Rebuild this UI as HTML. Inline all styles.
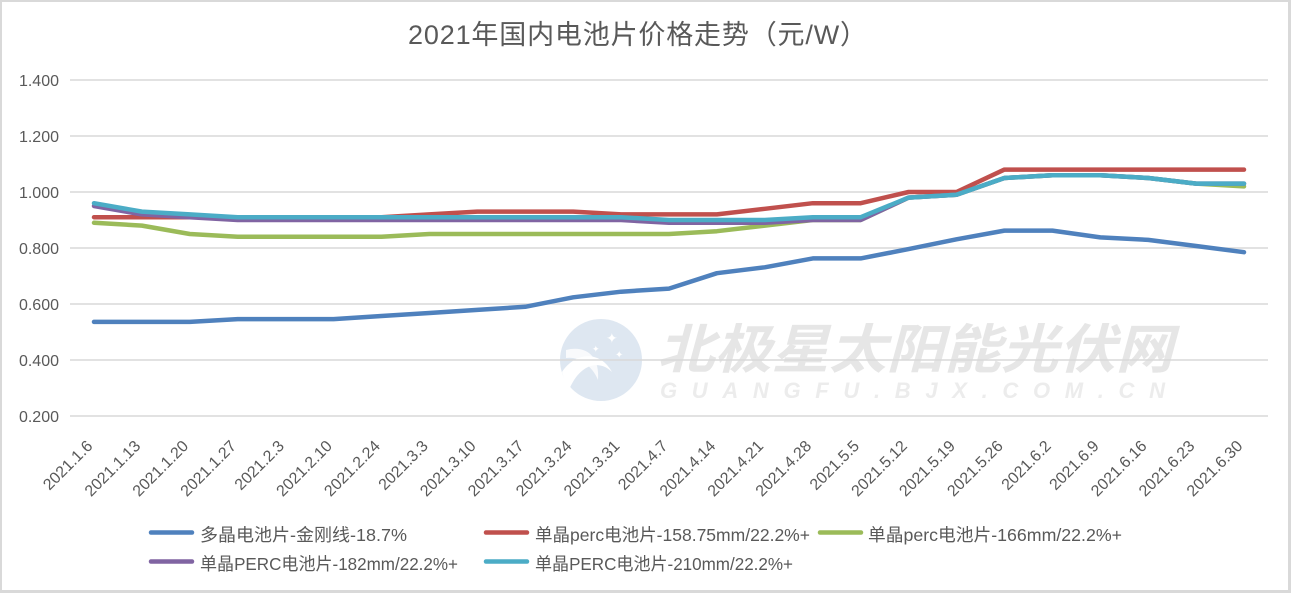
<!DOCTYPE html>
<html>
<head>
<meta charset="utf-8">
<style>
html,body{margin:0;padding:0;background:#fff;}
body{width:1291px;height:593px;overflow:hidden;}
svg{display:block;}
text{font-family:"Liberation Sans","Noto Sans CJK SC",sans-serif;}
</style>
</head>
<body>
<svg width="1291" height="593" viewBox="0 0 1291 593" xmlns="http://www.w3.org/2000/svg">
  <rect x="0" y="0" width="1291" height="593" fill="#D9D9D9"/>
  <rect x="2" y="2" width="1286" height="588" fill="#FFFFFF"/>

  <!-- title -->
  <text x="408" y="44" font-size="27" fill="#595959" textLength="459" lengthAdjust="spacing">2021年国内电池片价格走势（元/W）</text>

  <!-- watermark -->
  <g opacity="1">
    <circle cx="601" cy="360" r="41" fill="#DEE7F1"/>
    <path d="M562,372 C575,352 600,350 612,372 C600,360 580,362 568,392 Z" fill="#FFFFFF"/>
    <path d="M566,350 C585,345 600,355 598,380 C592,365 578,356 566,358 Z" fill="#FFFFFF" opacity="0.8"/>
    <text x="606" y="343" font-size="14" fill="#FFFFFF">✦</text>
    <text x="592" y="352" font-size="9" fill="#FFFFFF">✦</text>
    <text x="615" y="358" font-size="10" fill="#FFFFFF">✦</text>
    <text x="657" y="368" font-size="53" font-weight="bold" font-style="italic" fill="#E6E6E6" textLength="516" lengthAdjust="spacingAndGlyphs" font-family="'Noto Sans CJK SC',sans-serif">北极星太阳能光伏网</text>
    <text x="660" y="398" font-size="22" font-weight="bold" font-style="italic" fill="#ECECEC" textLength="505" lengthAdjust="spacing">GUANGFU.BJX.COM.CN</text>
  </g>

  <!-- gridlines -->
  <g stroke="#D9D9D9" stroke-width="1.5">
    <line x1="70" y1="80" x2="1268" y2="80"/>
    <line x1="70" y1="136" x2="1268" y2="136"/>
    <line x1="70" y1="192" x2="1268" y2="192"/>
    <line x1="70" y1="248" x2="1268" y2="248"/>
    <line x1="70" y1="304" x2="1268" y2="304"/>
    <line x1="70" y1="360" x2="1268" y2="360"/>
    <line x1="70" y1="416" x2="1268" y2="416"/>
  </g>

  <!-- y labels -->
  <g font-size="16" fill="#595959" text-anchor="end">
    <text x="59" y="86">1.400</text>
    <text x="59" y="142">1.200</text>
    <text x="59" y="198">1.000</text>
    <text x="59" y="254">0.800</text>
    <text x="59" y="310">0.600</text>
    <text x="59" y="366">0.400</text>
    <text x="59" y="422">0.200</text>
  </g>

  <!-- x labels -->
  <g font-size="16" fill="#595959" text-anchor="end">
    <text transform="translate(93.5,447) rotate(-45)">2021.1.6</text>
    <text transform="translate(141.4,447) rotate(-45)">2021.1.13</text>
    <text transform="translate(189.3,447) rotate(-45)">2021.1.20</text>
    <text transform="translate(237.2,447) rotate(-45)">2021.1.27</text>
    <text transform="translate(285.1,447) rotate(-45)">2021.2.3</text>
    <text transform="translate(333.1,447) rotate(-45)">2021.2.10</text>
    <text transform="translate(381.0,447) rotate(-45)">2021.2.24</text>
    <text transform="translate(428.9,447) rotate(-45)">2021.3.3</text>
    <text transform="translate(476.8,447) rotate(-45)">2021.3.10</text>
    <text transform="translate(524.7,447) rotate(-45)">2021.3.17</text>
    <text transform="translate(572.7,447) rotate(-45)">2021.3.24</text>
    <text transform="translate(620.6,447) rotate(-45)">2021.3.31</text>
    <text transform="translate(668.5,447) rotate(-45)">2021.4.7</text>
    <text transform="translate(716.4,447) rotate(-45)">2021.4.14</text>
    <text transform="translate(764.3,447) rotate(-45)">2021.4.21</text>
    <text transform="translate(812.3,447) rotate(-45)">2021.4.28</text>
    <text transform="translate(860.2,447) rotate(-45)">2021.5.5</text>
    <text transform="translate(908.1,447) rotate(-45)">2021.5.12</text>
    <text transform="translate(956.0,447) rotate(-45)">2021.5.19</text>
    <text transform="translate(1003.9,447) rotate(-45)">2021.5.26</text>
    <text transform="translate(1051.9,447) rotate(-45)">2021.6.2</text>
    <text transform="translate(1099.8,447) rotate(-45)">2021.6.9</text>
    <text transform="translate(1147.7,447) rotate(-45)">2021.6.16</text>
    <text transform="translate(1195.6,447) rotate(-45)">2021.6.23</text>
    <text transform="translate(1243.5,447) rotate(-45)">2021.6.30</text>
  </g>

  <!-- series -->
  <g fill="none" stroke-width="4.5" stroke-linejoin="round" stroke-linecap="round">
    <!-- blue -->
    <polyline stroke="#4F81BD" points="94.0,321.9 141.9,321.9 189.8,321.9 237.7,319.1 285.6,319.1 333.6,319.1 381.5,316.0 429.4,313.0 477.3,309.9 525.2,306.8 573.2,297.3 621.1,291.7 669.0,288.6 716.9,273.2 764.8,267.3 812.8,258.4 860.7,258.4 908.6,249.1 956.5,239.3 1004.4,230.6 1052.4,230.6 1100.3,237.4 1148.2,239.9 1196.1,246.0 1244.0,252.2"/>
    <!-- red -->
    <polyline stroke="#C0504D" points="94.0,217.2 141.9,217.2 189.8,217.2 237.7,217.2 285.6,217.2 333.6,217.2 381.5,217.2 429.4,214.4 477.3,211.6 525.2,211.6 573.2,211.6 621.1,214.4 669.0,214.4 716.9,214.4 764.8,208.8 812.8,203.2 860.7,203.2 908.6,192.0 956.5,192.0 1004.4,169.6 1052.4,169.6 1100.3,169.6 1148.2,169.6 1196.1,169.6 1244.0,169.6"/>
    <!-- green -->
    <polyline stroke="#9BBB59" points="94.0,222.8 141.9,225.6 189.8,234.0 237.7,236.8 285.6,236.8 333.6,236.8 381.5,236.8 429.4,234.0 477.3,234.0 525.2,234.0 573.2,234.0 621.1,234.0 669.0,234.0 716.9,231.2 764.8,225.6 812.8,220.0 860.7,220.0 908.6,197.6 956.5,194.8 1004.4,178.0 1052.4,175.2 1100.3,175.2 1148.2,178.0 1196.1,183.6 1244.0,186.4"/>
    <!-- purple -->
    <polyline stroke="#8064A2" points="94.0,206.0 141.9,214.4 189.8,217.2 237.7,220.0 285.6,220.0 333.6,220.0 381.5,220.0 429.4,220.0 477.3,220.0 525.2,220.0 573.2,220.0 621.1,220.0 669.0,222.8 716.9,222.8 764.8,222.8 812.8,220.0 860.7,220.0 908.6,197.6 956.5,194.8 1004.4,178.0 1052.4,175.2 1100.3,175.2 1148.2,178.0 1196.1,183.6 1244.0,183.6"/>
    <!-- cyan -->
    <polyline stroke="#4BACC6" points="94.0,203.2 141.9,211.6 189.8,214.4 237.7,217.2 285.6,217.2 333.6,217.2 381.5,217.2 429.4,217.2 477.3,217.2 525.2,217.2 573.2,217.2 621.1,217.2 669.0,220.0 716.9,220.0 764.8,220.0 812.8,217.2 860.7,217.2 908.6,197.6 956.5,194.8 1004.4,178.0 1052.4,175.2 1100.3,175.2 1148.2,178.0 1196.1,183.6 1244.0,183.6"/>
  </g>

  <!-- legend -->
  <g stroke-width="4.5" stroke-linecap="round">
    <line x1="151" y1="532.5" x2="192" y2="532.5" stroke="#4F81BD"/>
    <line x1="486" y1="532.5" x2="527" y2="532.5" stroke="#C0504D"/>
    <line x1="820" y1="532.5" x2="861" y2="532.5" stroke="#9BBB59"/>
    <line x1="151" y1="561.5" x2="192" y2="561.5" stroke="#8064A2"/>
    <line x1="486" y1="561.5" x2="527" y2="561.5" stroke="#4BACC6"/>
  </g>
  <g font-size="17.5" fill="#595959">
    <text x="200" y="541" textLength="207" lengthAdjust="spacingAndGlyphs">多晶电池片-金刚线-18.7%</text>
    <text x="535" y="541" textLength="275" lengthAdjust="spacingAndGlyphs">单晶perc电池片-158.75mm/22.2%+</text>
    <text x="868" y="541" textLength="254" lengthAdjust="spacingAndGlyphs">单晶perc电池片-166mm/22.2%+</text>
    <text x="200" y="570" textLength="258" lengthAdjust="spacingAndGlyphs">单晶PERC电池片-182mm/22.2%+</text>
    <text x="535" y="570" textLength="258" lengthAdjust="spacingAndGlyphs">单晶PERC电池片-210mm/22.2%+</text>
  </g>
</svg>
</body>
</html>
